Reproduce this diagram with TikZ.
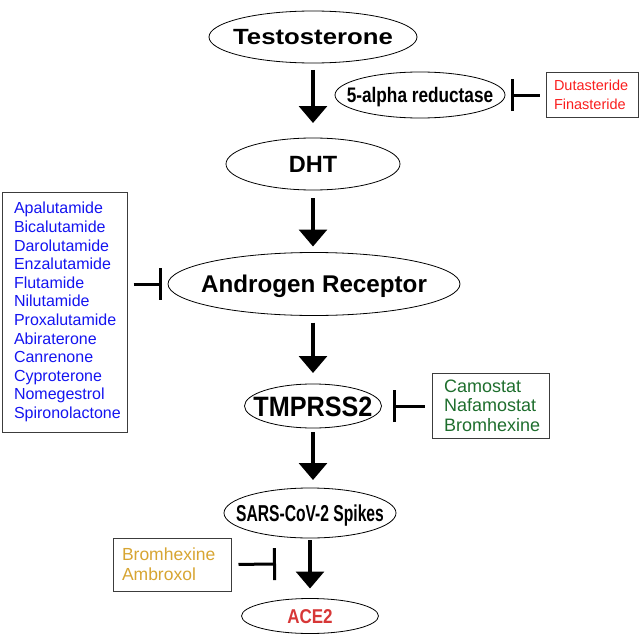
\documentclass[tikz,border=0pt]{standalone}
\usepackage{fontspec}
\setmainfont{Liberation Sans}
\newfontfamily\fwide[FakeStretch=1.17]{Liberation Sans}
\newfontfamily\fnarrowA[FakeStretch=0.82]{Liberation Sans}
\newfontfamily\fnarrowB[FakeStretch=0.68]{Liberation Sans}
\newfontfamily\fnarrowC[FakeStretch=0.85]{Liberation Sans}
\newfontfamily\fnarrowD[FakeStretch=0.9]{Liberation Sans}
\newcommand\ovaltext[1]{\makebox[0pt]{\raisebox{-0.358em}[0pt][0pt]{#1}}}
\usetikzlibrary{shapes.geometric,arrows.meta}
\definecolor{drugblue}{RGB}{20,20,240}
\definecolor{drugred}{RGB}{250,30,30}
\definecolor{druggreen}{RGB}{30,110,45}
\definecolor{druggold}{RGB}{215,165,50}
\definecolor{acered}{RGB}{215,55,55}
\definecolor{boxgray}{RGB}{60,60,60}
\begin{document}
\begin{tikzpicture}[x=1pt,y=-1pt,
  oval/.style={ellipse,draw,line width=0.8pt,inner sep=0pt,outer sep=0pt},
  drugbox/.style={draw=boxgray,line width=1pt,align=left,inner ysep=0pt,
    execute at begin node={\hyphenpenalty=10000\exhyphenpenalty=10000}},
  act/.style={line width=3.2pt,-{Triangle[width=28pt,length=17pt]}},
  inh/.style={line width=3pt,-{Bar[width=32pt]}}]
\useasboundingbox (0,0) rectangle (640,634);

% main chain
\node[oval,minimum width=208pt,minimum height=52pt,font={\fontsize{22}{26}\fwide\bfseries}] (T) at (313,37) {\ovaltext{Testosterone}};
\node[oval,minimum width=170pt,minimum height=46pt,font={\fontsize{21}{25}\fnarrowA\bfseries}] (A5) at (420,95) {\ovaltext{5-alpha reductase}};
\node[oval,minimum width=174pt,minimum height=52pt,font={\fontsize{23.5}{28}\selectfont\bfseries}] (D) at (313,164) {\ovaltext{DHT}};
\node[oval,minimum width=292pt,minimum height=63pt,font={\fontsize{24.2}{29}\selectfont\bfseries}] (AR) at (314,284) {\ovaltext{Androgen Receptor}};
\node[oval,minimum width=137pt,minimum height=44pt,font={\fontsize{28}{33}\fnarrowD\bfseries}] (TMP) at (313,406) {\ovaltext{TMPRSS2}};
\node[oval,minimum width=172pt,minimum height=50pt,font={\fontsize{23}{27}\fnarrowB\bfseries}] (S) at (310,513) {\ovaltext{SARS-CoV-2 Spikes}};
\node[oval,minimum width=137pt,minimum height=35pt,text=acered,font={\fontsize{20}{24}\fnarrowC\bfseries}] (ACE) at (310,616) {\ovaltext{ACE2}};

% drug boxes
\node[drugbox,text=drugred,text width=76pt,inner xsep=8pt,minimum height=44pt,
  font={\fontsize{14.5}{18.7}\selectfont}] (red) at (592,95) {Dutasteride\\Finasteride};
\node[drugbox,text=drugblue,text width=101pt,inner xsep=12pt,minimum height=240pt,
  font={\fontsize{16}{18.6}\selectfont}] (blue) at (64.5,312)
  {Apalutamide\\Bicalutamide\\Darolutamide\\Enzalutamide\\Flutamide\\Nilutamide\\Proxalutamide\\Abiraterone\\Canrenone\\Cyproterone\\Nomegestrol\\Spironolactone};
\node[drugbox,text=druggreen,text width=93pt,inner xsep=12pt,minimum height=65pt,
  font={\fontsize{18}{19.5}\selectfont}] (green) at (490.5,405.5) {Camostat\\Nafamostat\\Bromhexine};
\node[drugbox,text=druggold,text width=100pt,inner xsep=9pt,minimum height=53pt,
  font={\fontsize{17.5}{20}\selectfont}] (gold) at (172,564.5) {Bromhexine\\Ambroxol};

% activation arrows
\draw[act,shorten <=7pt,shorten >=15pt] (T.south) -- (D.north);
\draw[act,shorten <=8pt,shorten >=6pt] (D.south) -- (D.south |- AR.north);
\draw[act,shorten <=7pt,shorten >=11pt] (TMP.north |- AR.south) -- (TMP.north);
\draw[act,shorten <=4pt,shorten >=8pt] (TMP.south) -- (TMP.south |- S.north);
\draw[act,shorten <=2pt,shorten >=10pt] (S.south) -- (ACE.north);

% inhibitions
\draw[inh,shorten <=6pt,shorten >=6pt] (red.west) -- (A5.east);
\draw[inh,shorten <=6pt,shorten >=6pt] (blue.east |- AR.west) -- (AR.west);
\draw[inh,shorten <=7pt,shorten >=11pt] (green.west |- TMP.east) -- (TMP.east);
\coordinate (gbar) at (276,564);
\draw[inh,shorten <=7pt] (gold.east) -- (gbar);
\end{tikzpicture}
\end{document}
